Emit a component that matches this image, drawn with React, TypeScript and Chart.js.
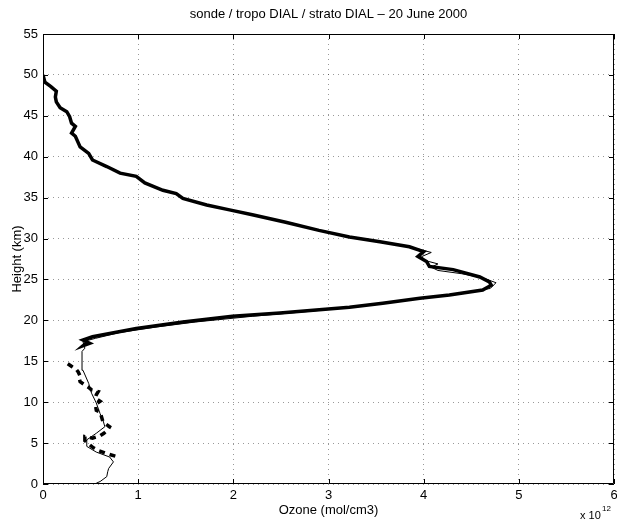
import React, { useEffect, useRef } from "react";
import { Chart, registerables } from "chart.js";

Chart.register(...registerables);

const titleText = "sonde / tropo DIAL / strato DIAL \u2013 20 June 2000";
const xAxisTitle = "Ozone (mol/cm3)";
const yAxisTitle = "Height (km)";
const xTickValues = [0, 1, 2, 3, 4, 5, 6];
const yTickValues = [0, 5, 10, 15, 20, 25, 30, 35, 40, 45, 50, 55];

// sonde (thin line), ozone in 1e12 mol/cm3, height in km
const sondeOzone = [0.56, 0.6, 0.67, 0.68, 0.69, 0.74, 0.7, 0.56, 0.46, 0.46, 0.56, 0.65, 0.63, 0.6, 0.56, 0.51, 0.48, 0.42, 0.41, 0.41, 0.44, 0.42, 0.55, 0.8, 1.2, 1.6, 2.2, 2.8, 3.4, 3.9, 4.35, 4.7, 4.76, 4.62, 4.4, 4.15, 4.08, 4.15, 4.02, 3.98, 4.08, 3.95, 3.75, 3.5, 3.2, 2.88];
const sondeHeight = [0.1, 0.3, 0.9, 1.5, 1.9, 2.7, 3.3, 3.9, 4.6, 5.4, 6.2, 7.0, 7.8, 8.6, 9.9, 11.1, 12.3, 13.9, 15.2, 16.2, 16.6, 17.4, 17.8, 18.5, 19.2, 19.8, 20.5, 21.1, 21.8, 22.6, 23.2, 23.9, 24.6, 25.2, 25.7, 26.1, 26.5, 26.9, 27.3, 27.8, 28.3, 28.7, 29.2, 29.7, 30.2, 31.0];

// tropo DIAL (thick dashed)
const tropoOzone = [0.26, 0.31, 0.35, 0.37, 0.39, 0.38, 0.39, 0.44, 0.48, 0.51, 0.58, 0.56, 0.55, 0.6, 0.55, 0.56, 0.6, 0.62, 0.63, 0.7, 0.68, 0.64, 0.6, 0.52, 0.44, 0.44, 0.47, 0.52, 0.58, 0.65, 0.7, 0.79];
const tropoHeight = [14.7, 14.3, 14.0, 13.7, 13.2, 12.9, 12.5, 12.1, 11.8, 11.5, 11.3, 10.9, 10.5, 10.1, 9.7, 9.0, 8.8, 8.0, 7.6, 7.0, 6.6, 6.2, 5.9, 5.6, 5.8, 5.3, 5.0, 4.5, 4.1, 3.8, 3.6, 3.3];

// strato DIAL (thick solid)
const stratoOzone = [0, 0.02, 0.08, 0.14, 0.13, 0.14, 0.18, 0.25, 0.28, 0.3, 0.34, 0.3, 0.34, 0.39, 0.48, 0.52, 0.67, 0.81, 0.98, 1.07, 1.26, 1.4, 1.47, 1.72, 1.96, 2.2, 2.55, 2.9, 3.22, 3.54, 3.85, 4.0, 3.94, 4.03, 4.06, 4.31, 4.59, 4.69, 4.71, 4.62, 4.27, 3.96, 3.57, 3.22, 2.49, 1.99, 1.47, 0.98, 0.7, 0.52, 0.42, 0.49, 0.42, 0.46];
const stratoHeight = [50.0, 49.1, 48.6, 48.0, 47.3, 46.7, 46.0, 45.5, 44.9, 44.1, 43.7, 42.9, 42.5, 41.2, 40.4, 39.6, 38.8, 38.0, 37.6, 36.8, 35.9, 35.5, 34.9, 34.1, 33.5, 32.9, 32.0, 31.0, 30.2, 29.6, 29.0, 28.4, 27.8, 27.2, 26.6, 26.2, 25.3, 24.7, 24.3, 23.7, 23.1, 22.7, 22.1, 21.6, 20.9, 20.5, 19.8, 19.0, 18.4, 18.0, 17.6, 17.2, 16.9, 17.3];

const FONT = "Liberation Sans, Arial, Helvetica, sans-serif";

const toPoints = (xs: number[], ys: number[]) => xs.map((x, i) => ({ x, y: ys[i] }));

const framePlugin = {
  id: "matlabFrame",
  afterDraw(chart: any) {
    const { ctx, chartArea } = chart;
    const { left, right, top, bottom } = chartArea;
    const xs = chart.scales.x;
    const ys = chart.scales.y;
    ctx.save();
    ctx.strokeStyle = "#000";
    ctx.lineWidth = 1;
    ctx.beginPath();
    ctx.rect(left + 0.5, top + 0.5, right - left - 1, bottom - top - 1);
    ctx.stroke();
    const tl = 5;
    ctx.beginPath();
    xTickValues.forEach((v) => {
      const px = Math.round(xs.getPixelForValue(v)) + 0.5;
      ctx.moveTo(px, bottom);
      ctx.lineTo(px, bottom - tl);
      ctx.moveTo(px, top);
      ctx.lineTo(px, top + tl);
    });
    yTickValues.forEach((v) => {
      const py = Math.round(ys.getPixelForValue(v)) + 0.5;
      ctx.moveTo(left, py);
      ctx.lineTo(left + tl, py);
      ctx.moveTo(right, py);
      ctx.lineTo(right - tl, py);
    });
    ctx.stroke();

    ctx.fillStyle = "#000";
    ctx.font = `13px ${FONT}`;
    ctx.textAlign = "center";
    ctx.textBaseline = "middle";
    ctx.fillText(titleText, (left + right) / 2, 14);
    ctx.fillText(xAxisTitle, (left + right) / 2, 510);
    ctx.save();
    ctx.translate(17, (top + bottom) / 2);
    ctx.rotate(-Math.PI / 2);
    ctx.fillText(yAxisTitle, 0, 0);
    ctx.restore();
    ctx.textAlign = "left";
    ctx.font = `11px ${FONT}`;
    ctx.fillText("x 10", 580, 516);
    ctx.font = `8px ${FONT}`;
    ctx.fillText("12", 602, 509);
    ctx.restore();
  },
};

export default function App() {
  const canvasRef = useRef<HTMLCanvasElement | null>(null);

  useEffect(() => {
    if (!canvasRef.current) return;
    const chart = new Chart(canvasRef.current, {
      type: "scatter",
      data: {
        datasets: [
          {
            label: "strato DIAL",
            data: toPoints(stratoOzone, stratoHeight),
            showLine: true,
            borderColor: "#000",
            borderWidth: 3.5,
            pointRadius: 0,
            tension: 0,
          },
          {
            label: "sonde",
            data: toPoints(sondeOzone, sondeHeight),
            showLine: true,
            borderColor: "#000",
            borderWidth: 1,
            pointRadius: 0,
            tension: 0,
          },
          {
            label: "tropo DIAL",
            data: toPoints(tropoOzone, tropoHeight),
            showLine: true,
            borderColor: "#000",
            borderWidth: 3.5,
            borderDash: [6, 5],
            pointRadius: 0,
            tension: 0,
          },
        ],
      },
      options: {
        animation: false,
        responsive: false,
        maintainAspectRatio: false,
        layout: { padding: { top: 34, right: 3, left: 0, bottom: 0 } },
        plugins: { legend: { display: false }, tooltip: { enabled: false }, title: { display: false } },
        scales: {
          x: {
            type: "linear",
            min: 0,
            max: 6,
            afterBuildTicks: (s: any) => {
              s.ticks = xTickValues.map((v) => ({ value: v }));
            },
            afterFit: (s: any) => {
              s.height = 37;
              s.paddingLeft = 0;
              s.paddingRight = 0;
            },
            ticks: { color: "#000", font: { size: 13, family: FONT }, padding: 4 },
            grid: { color: "rgba(0,0,0,0.4)", drawTicks: false, lineWidth: 1 },
            border: { display: false, dash: [1, 4] },
          },
          y: {
            type: "linear",
            min: 0,
            max: 55,
            afterBuildTicks: (s: any) => {
              s.ticks = yTickValues.map((v) => ({ value: v }));
            },
            afterFit: (s: any) => {
              s.width = 43;
            },
            ticks: { color: "#000", font: { size: 13, family: FONT }, padding: 5 },
            grid: { color: "rgba(0,0,0,0.4)", drawTicks: false, lineWidth: 1 },
            border: { display: false, dash: [1, 4] },
          },
        },
      } as any,
      plugins: [framePlugin],
    });
    return () => chart.destroy();
  }, []);

  return (
    <div style={{ position: "absolute", left: 0, top: 0, width: 617, height: 521, background: "#fff" }}>
      <canvas ref={canvasRef} width={617} height={521} style={{ display: "block" }} />
    </div>
  );
}
